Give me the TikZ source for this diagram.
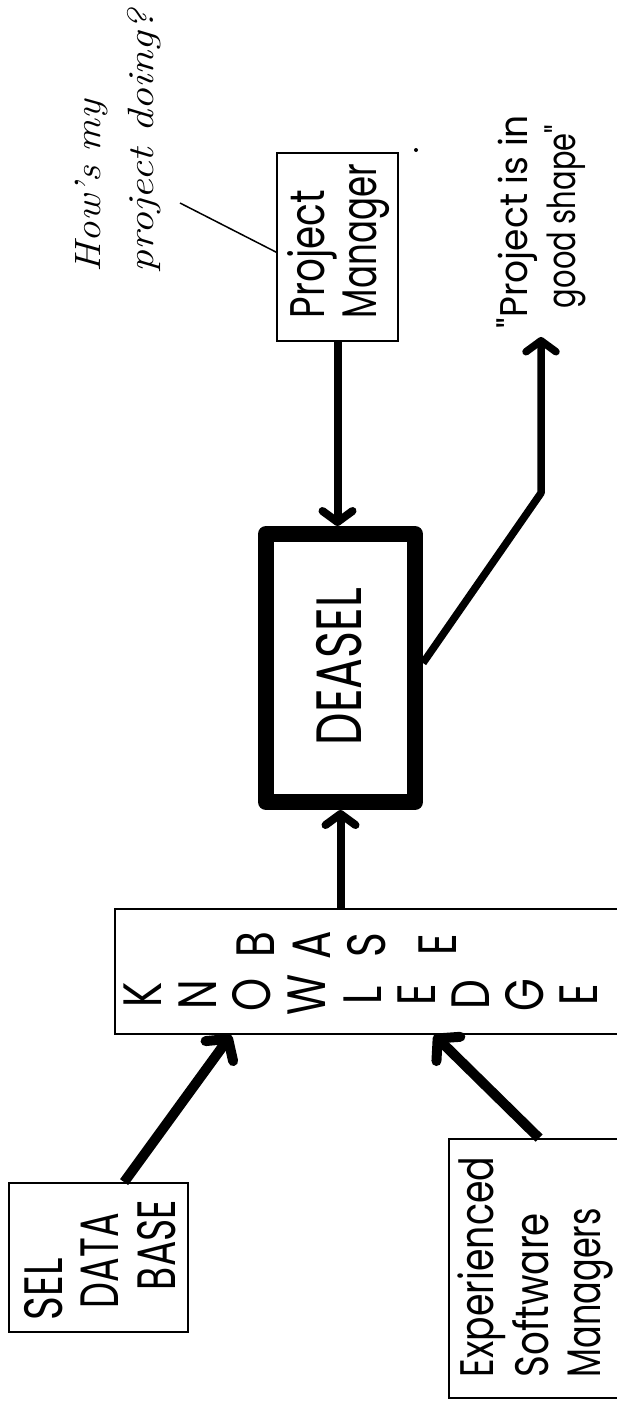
\documentclass[tikz,border=0pt]{standalone}
\usepackage{fontspec}
\usepackage{graphicx}
\usetikzlibrary{arrows.meta,calc}
\newfontfamily\gfont{Poppins}
\newcommand{\fitw}[2]{\resizebox{#1}{\height}{#2}}
\begin{document}
\begin{tikzpicture}[x=1pt,y=-1pt,
  box/.style={draw, line width=1.8pt, inner sep=0pt},
  gtxt/.style={rotate=90, inner sep=0pt, outer sep=0pt, font={\gfont\fontsize{#1}{#1}\selectfont}},
  itxt/.style={rotate=90, inner sep=0pt, outer sep=0pt, font={\itshape\fontsize{#1}{#1}\selectfont}},
  arr/.style={line width=8pt, -{Straight Barb[length=11pt,width=30pt,round]}},
  bigarr/.style={line width=10pt, -{Straight Barb[length=15pt,width=34pt,round]}},
  leader/.style={line width=1.5pt}
]
\useasboundingbox (0,0) rectangle (617,1402);
\fill[white] (0,0) rectangle (617,1402);
\clip (0,0) rectangle (617,1402);

% boxes
\node[box, minimum width=121pt, minimum height=188pt] (pm) at (337.5,247) {};
\node[draw, line width=16pt, line join=round, inner sep=0pt,
      minimum width=149pt, minimum height=268pt] (deasel) at (340.5,668) {};
\node[box, minimum width=525pt, minimum height=125pt] (kb) at (377.5,971.5) {};
\node[box, minimum width=179pt, minimum height=149pt] (sel) at (98.5,1257.5) {};
\node[box, minimum width=181pt, minimum height=259pt] (esm) at (539.5,1268.5) {};

% texts
\node[itxt=36.6, anchor=base west] (how1) at (100,272) {\fitw{172pt}{How's my}};
\node[itxt=36.6, anchor=base west] (how2) at (153,272) {\fitw{262pt}{project doing?}};

\node[gtxt=48.6, anchor=base west] (pmt1) at (324,318) {\fitw{128pt}{Project}};
\node[gtxt=48.6, anchor=base west] (pmt2) at (376,318) {\fitw{154pt}{Manager}};

\node[gtxt=38.6, anchor=base] (q1) at (527,221.5) {\fitw{213pt}{"Project is in}};
\node[gtxt=38.6, anchor=base] (q2) at (575,216.5) {\fitw{183pt}{good shape"}};

\node[gtxt=64, anchor=base] (deaselt) at (361,666.5) {\fitw{157pt}{DEASEL}};

\foreach \l/\xx [count=\i] in {K/143,N/198,O/252,W/307,L/363,E/417,D/471,G/525,E/579}
  \node[gtxt=54] (kwl\i) at (\xx,995) {\scalebox{0.78}[1]{\l}};
\foreach \l/\xx [count=\i] in {B/256,A/312,S/367,E/438}
  \node[gtxt=54] (kbl\i) at (\xx,945) {\scalebox{0.78}[1]{\l}};

\node[gtxt=54, anchor=base west] (selt1) at (62,1320) {\fitw{62pt}{SEL}};
\node[gtxt=54, anchor=base west] (selt2) at (118,1308) {\fitw{95pt}{DATA}};
\node[gtxt=54, anchor=base west] (selt3) at (175,1290) {\fitw{90pt}{BASE}};

\node[gtxt=47, anchor=base west] (esmt1) at (493,1377) {\fitw{220pt}{Experienced}};
\node[gtxt=47, anchor=base west] (esmt2) at (548,1377) {\fitw{164pt}{Software}};
\node[gtxt=47, anchor=base west] (esmt3) at (600,1377) {\fitw{169pt}{Managers}};

% connectors
\coordinate (howtail) at (180,203);
\draw[leader] (howtail) -- ($(pm.north west)!0.527!(pm.south west)$);
\fill (416,150) circle (2pt);

\draw[arr] (pm.south) -- (pm.south |- deasel.north);
\draw[arr] (deasel.south |- kb.north) -- (deasel.south);

\coordinate (qbend) at (541,493);
\coordinate (qtip) at (541,337);
\draw[arr, line width=7.5pt, line join=round] ($(deasel.east)+(0,-5)$) -- (qbend) -- (qtip);

\draw[bigarr] ($(sel.north west)+(116,0)$) -- ($(kb.south west)+(117,0)$);
\draw[bigarr] ($(esm.north west)+(91,0)$) -- ($(kb.south west)+(320,0)$);
\end{tikzpicture}
\end{document}
